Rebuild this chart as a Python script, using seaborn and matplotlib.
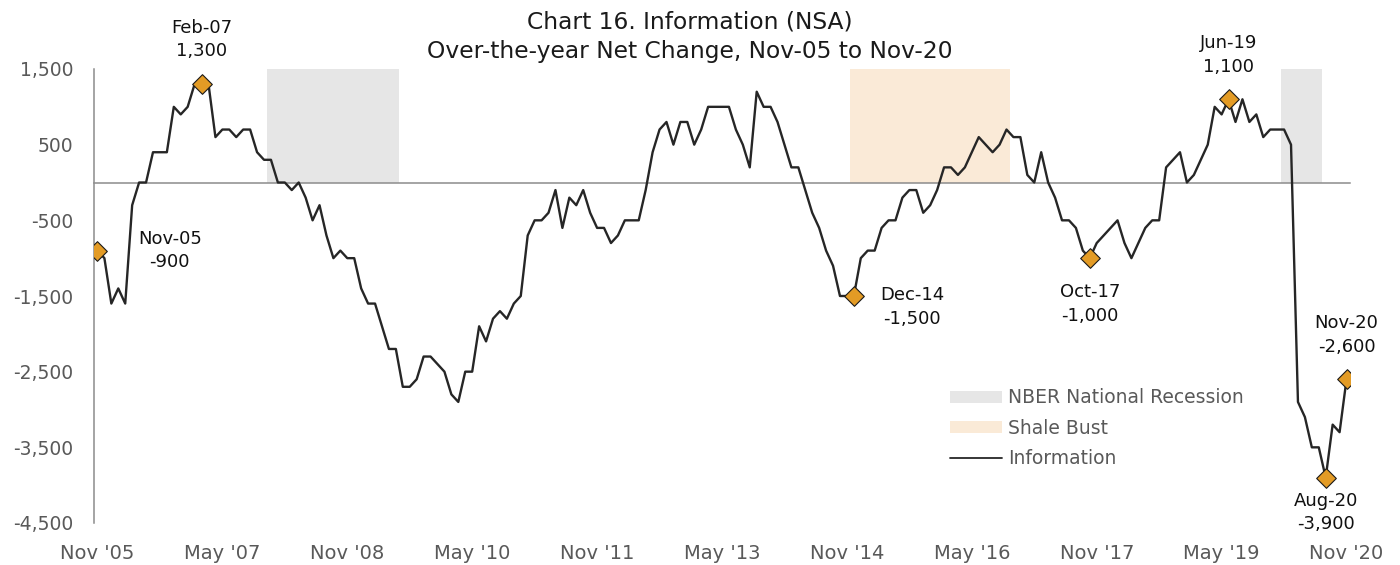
import numpy as np
import pandas as pd
import matplotlib
matplotlib.use("Agg")
import matplotlib.pyplot as plt
import seaborn as sns
from matplotlib.patches import Patch
from matplotlib.lines import Line2D
from matplotlib.ticker import FuncFormatter

# ---------------- data ----------------
months = pd.date_range("2005-11-01", "2020-11-01", freq="MS")

info_change = [
    -900, -1000, -1600, -1400, -1600, -300, 0, 0, 400, 400,
    400, 1000, 900, 1000, 1300, 1300, 1300, 600, 700, 700,
    600, 700, 700, 400, 300, 300, 0, 0, -100, 0,
    -200, -500, -300, -700, -1000, -900, -1000, -1000, -1400, -1600,
    -1600, -1900, -2200, -2200, -2700, -2700, -2600, -2300, -2300, -2400,
    -2500, -2800, -2900, -2500, -2500, -1900, -2100, -1800, -1700, -1800,
    -1600, -1500, -700, -500, -500, -400, -100, -600, -200, -300,
    -100, -400, -600, -600, -800, -700, -500, -500, -500, -100,
    400, 700, 800, 500, 800, 800, 500, 700, 1000, 1000,
    1000, 1000, 700, 500, 200, 1200, 1000, 1000, 800, 500,
    200, 200, -100, -400, -600, -900, -1100, -1500, -1500, -1500,
    -1000, -900, -900, -600, -500, -500, -200, -100, -100, -400,
    -300, -100, 200, 200, 100, 200, 400, 600, 500, 400,
    500, 700, 600, 600, 100, 0, 400, 0, -200, -500,
    -500, -600, -900, -1000, -800, -700, -600, -500, -800, -1000,
    -800, -600, -500, -500, 200, 300, 400, 0, 100, 300,
    500, 1000, 900, 1100, 800, 1100, 800, 900, 600, 700,
    700, 700, 500, -2900, -3100, -3500, -3500, -3900, -3200, -3300,
    -2600,
]

tick_labels = ["Nov '05", "May '07", "Nov '08", "May '10", "Nov '11", "May '13",
               "Nov '14", "May '16", "Nov '17", "May '19", "Nov '20"]
tick_months = ["2005-11", "2007-05", "2008-11", "2010-05", "2011-11", "2013-05",
               "2014-11", "2016-05", "2017-11", "2019-05", "2020-11"]

highlight_labels = ["Nov-05", "Feb-07", "Dec-14", "Oct-17", "Jun-19", "Aug-20", "Nov-20"]

nber_periods = [("2007-12", "2009-06"), ("2020-02", "2020-07")]
shale_periods = [("2014-12", "2016-10")]
shade_height = 1500

y_ticks = [1500, 500, -500, -1500, -2500, -3500, -4500]

# ---------------- styling ----------------
LINE_COLOR = "#262626"
ORANGE = "#E39B25"
GRAY_SHADE = "#E6E6E6"
SHALE_SHADE = "#FAEAD7"
AXIS_GRAY = "#8C8C8C"
LABEL_GRAY = "#595959"

# offsets of annotation text (points) relative to each highlighted marker
label_offsets = {
    "Nov-05": (52, 0),
    "Feb-07": (0, 32),
    "Dec-14": (42, -8),
    "Oct-17": (0, -33),
    "Jun-19": (0, 32),
    "Aug-20": (0, -25),
    "Nov-20": (0, 32),
}

sns.set_style("white")
plt.rcParams["font.family"] = ["DejaVu Sans"]

df = pd.DataFrame({"month": months, "value": info_change})
df["i"] = np.arange(len(df))
df["label"] = df["month"].dt.strftime("%b-%y")


def period_mask(periods):
    m = np.zeros(len(df), dtype=bool)
    for s, e in periods:
        m |= (df["month"] >= pd.Timestamp(s)) & (df["month"] <= pd.Timestamp(e))
    return m


nber_h = np.where(period_mask(nber_periods), shade_height, 0)
shale_h = np.where(period_mask(shale_periods), shade_height, 0)

fig = plt.figure(figsize=(14, 5.65), dpi=100)
ax = fig.add_axes([94 / 1400, 1 - 523 / 565, 1256 / 1400, 454 / 565])

ax.bar(df["i"], nber_h, width=1.0, color=GRAY_SHADE, linewidth=0, zorder=1)
ax.bar(df["i"], shale_h, width=1.0, color=SHALE_SHADE, linewidth=0, zorder=1)

sns.lineplot(data=df, x="i", y="value", color=LINE_COLOR, linewidth=1.7,
             ax=ax, zorder=3, legend=False)

hl = df[df["label"].isin(highlight_labels)]
sns.scatterplot(data=hl, x="i", y="value", marker="D", s=100, color=ORANGE,
                edgecolor="#1a1a1a", linewidth=0.8, ax=ax, zorder=4, legend=False)

for _, r in hl.iterrows():
    dx, dy = label_offsets[r["label"]]
    ax.annotate(f"{r['label']}\n{int(r['value']):,}", xy=(r["i"], r["value"]),
                xytext=(dx, dy), textcoords="offset points", ha="center", va="center",
                multialignment="center", fontsize=13, color="#111111",
                linespacing=1.4, zorder=5)

ax.set_xlim(-0.5, len(df) - 0.5)
ax.set_ylim(-4500, 1500)
ax.set_yticks(y_ticks)
ax.yaxis.set_major_formatter(FuncFormatter(lambda v, p: f"{int(v):,}"))
ax.tick_params(axis="y", length=0, pad=15, labelsize=13.5, labelcolor=LABEL_GRAY)

tick_pos = [int(df.index[df["month"] == pd.Timestamp(m)][0]) for m in tick_months]
ax.set_xticks([p - 0.5 for p in tick_pos])
ax.tick_params(axis="x", direction="out", length=4, width=1, color=AXIS_GRAY,
               labelbottom=False)
ax.set_xlabel("")
ax.set_ylabel("")

for s in ["top", "right"]:
    ax.spines[s].set_visible(False)
ax.spines["bottom"].set_position(("data", 0))
ax.spines["bottom"].set_color(AXIS_GRAY)
ax.spines["bottom"].set_linewidth(1.1)
ax.spines["left"].set_color(AXIS_GRAY)
ax.spines["left"].set_linewidth(1.1)

sec = ax.secondary_xaxis("bottom")
sec.set_xticks(tick_pos)
sec.set_xticklabels(tick_labels)
sec.tick_params(length=0, pad=15, labelsize=14, labelcolor=LABEL_GRAY)
sec.spines["bottom"].set_visible(False)

handles = [
    Patch(facecolor=GRAY_SHADE, edgecolor="none", label="NBER National Recession"),
    Patch(facecolor=SHALE_SHADE, edgecolor="none", label="Shale Bust"),
    Line2D([], [], color=LINE_COLOR, linewidth=1.3, label="Information"),
]
ax.legend(handles=handles, loc="center left", bbox_to_anchor=(0.6815, 0.209),
          frameon=False, fontsize=13.5, labelcolor=LABEL_GRAY, borderpad=0,
          borderaxespad=0, handlelength=2.8, handleheight=0.6, handletextpad=0.3,
          labelspacing=0.6)

fig.text(690 / 1400, 1 - 37 / 565,
         "Chart 16. Information (NSA)\nOver-the-year Net Change, Nov-05 to Nov-20",
         ha="center", va="center", fontsize=16.8, color="#1a1a1a", linespacing=1.35)

fig.savefig("out.png", dpi=100)
